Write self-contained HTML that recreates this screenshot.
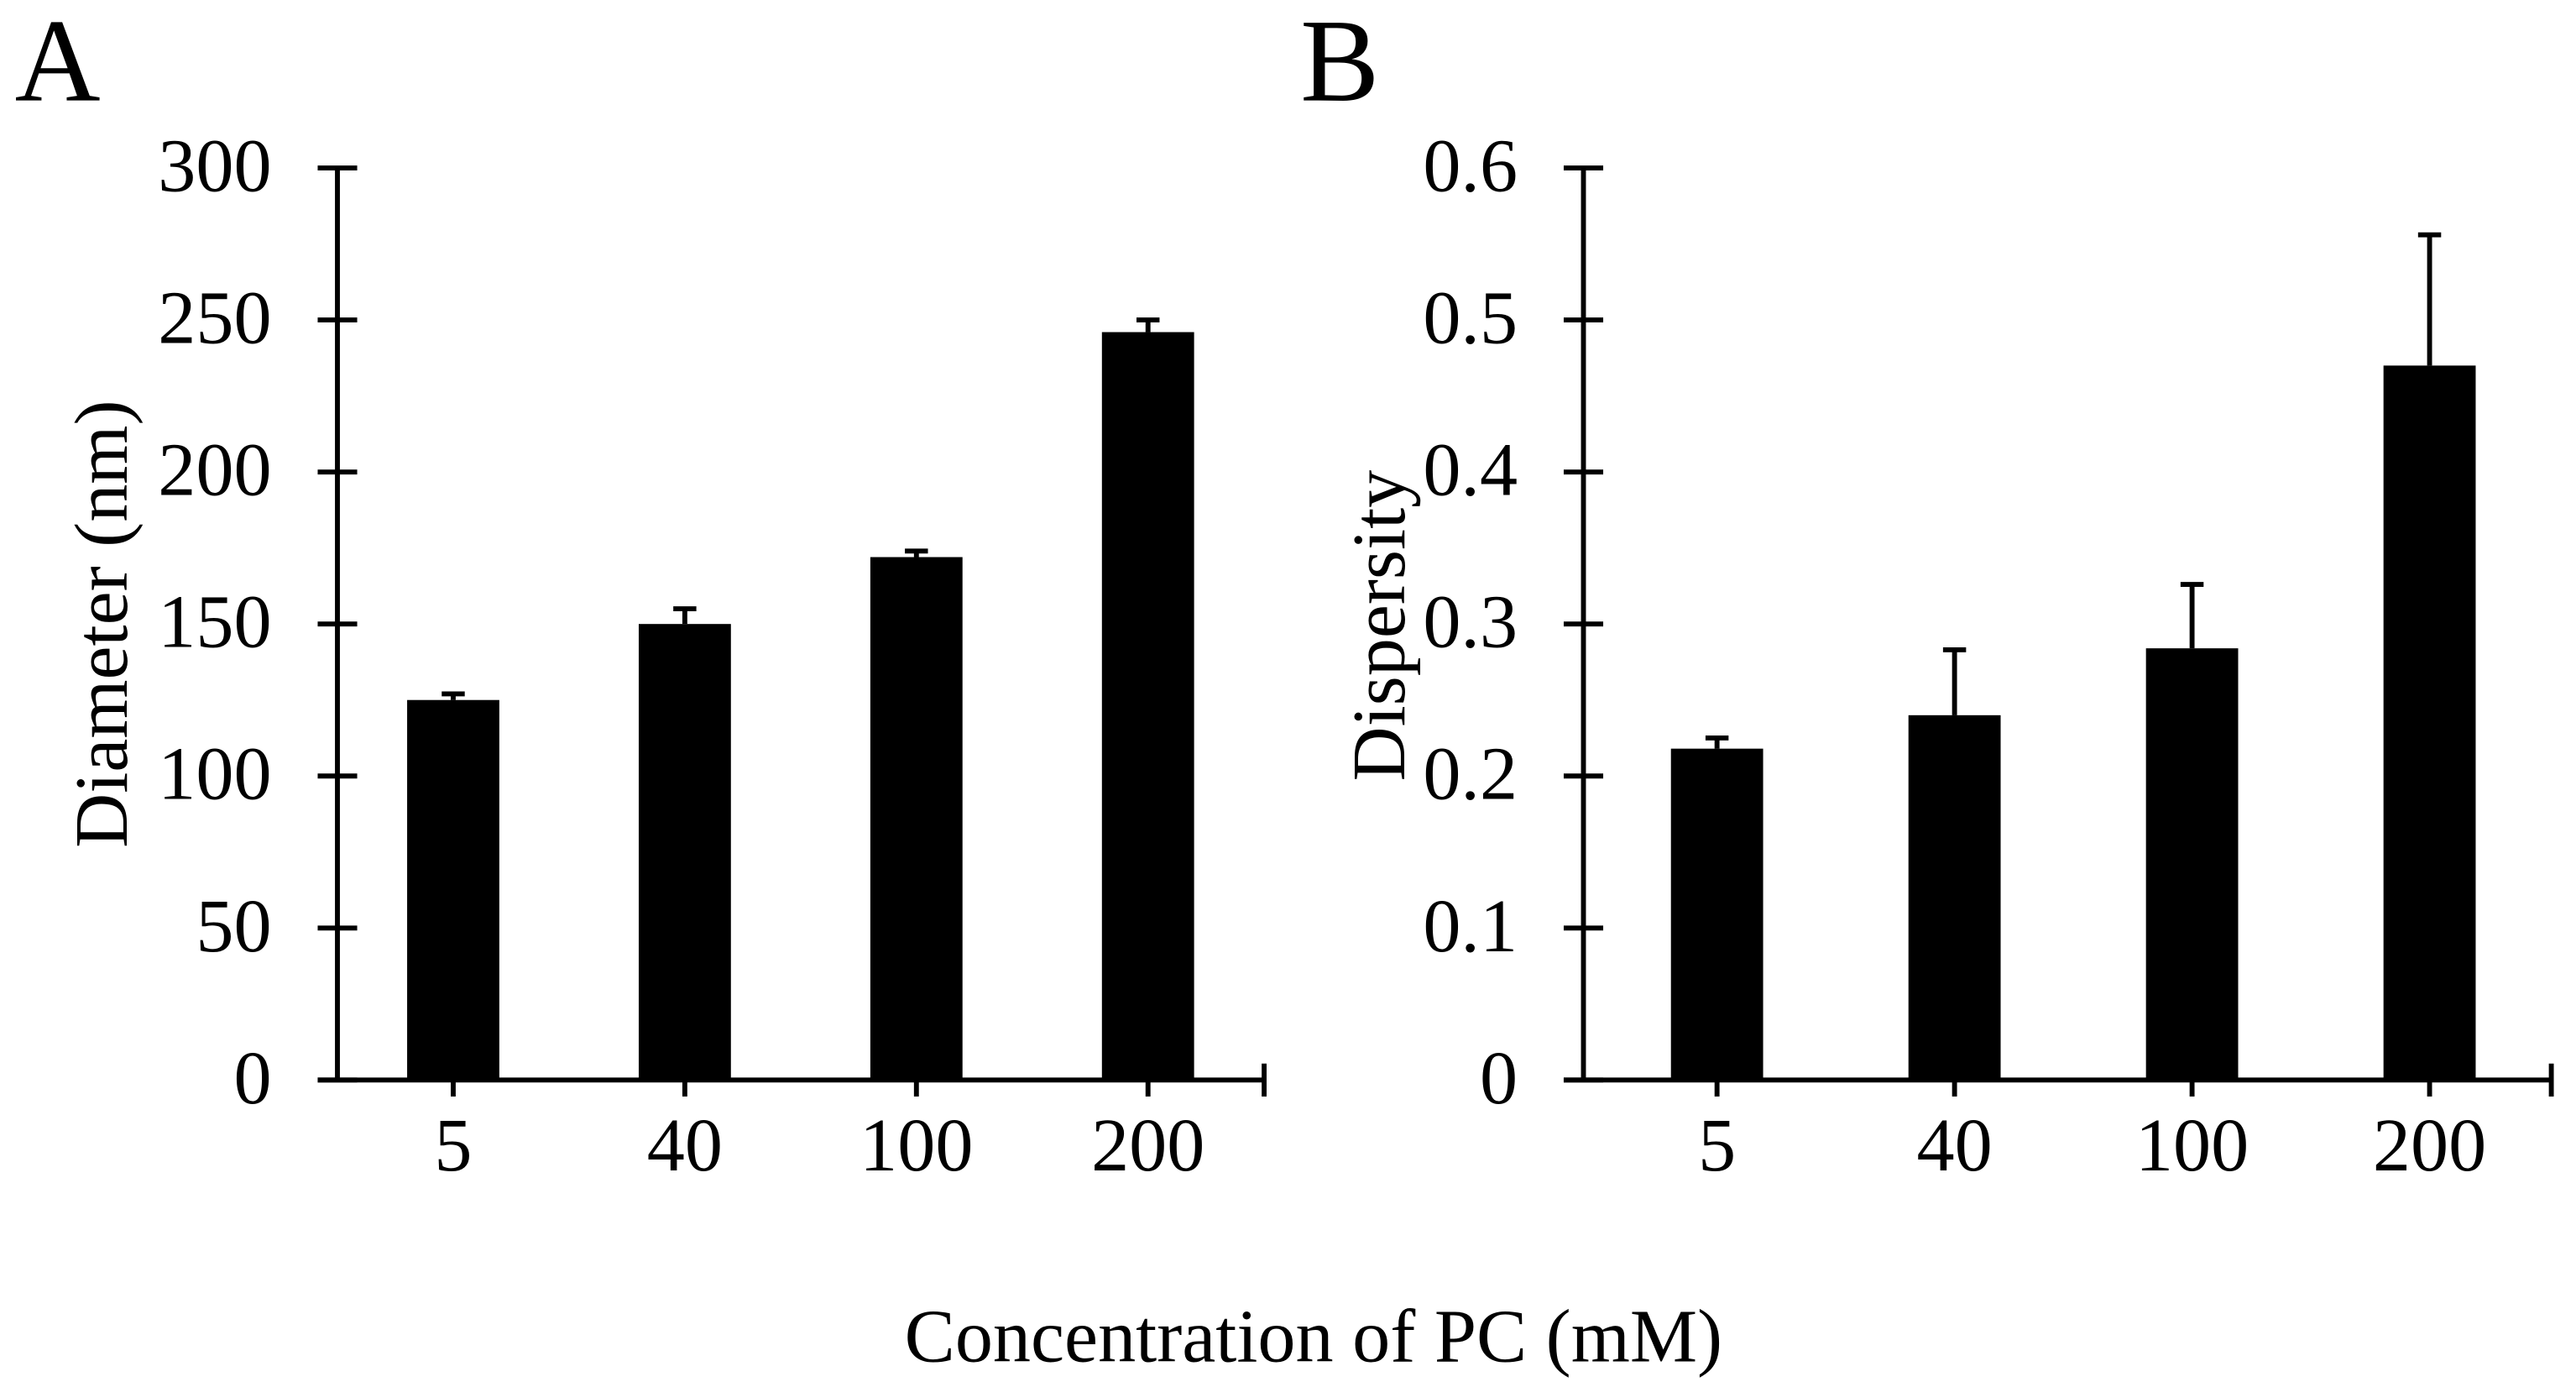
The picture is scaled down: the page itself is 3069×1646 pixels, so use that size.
<!DOCTYPE html>
<html><head><meta charset="utf-8"><style>
html,body{margin:0;padding:0;background:#fff;}
svg{display:block;}
text{font-family:"Liberation Serif",serif;fill:#000;}
</style></head><body>
<svg id="fig" width="3069" height="1646" viewBox="0 0 1565 839.4" preserveAspectRatio="none" xmlns="http://www.w3.org/2000/svg">
<rect width="1565" height="839.4" fill="#fff"/>
<text x="9" y="61" font-size="72">A</text>
<text x="790" y="61" font-size="72">B</text>
<text transform="translate(77,379) rotate(-90)" text-anchor="middle" font-size="46">Diameter (nm)</text>
<text transform="translate(853,380) rotate(-90)" text-anchor="middle" font-size="46">Dispersity</text>
<text x="798" y="827" text-anchor="middle" font-size="46">Concentration of PC (mM)</text>
<g id="pa"></g>
<g id="pb"></g>
</svg>
<script>
const categories = ["5","40","100","200"];
const diameterValues = [125, 150, 172, 246];
const diameterErrors = [2, 5, 2, 4];
const diameterTicks = [0,50,100,150,200,250,300];
const diameterTickLabels = ["0","50","100","150","200","250","300"];
const dispersityValues = [0.218, 0.240, 0.284, 0.470];
const dispersityErrors = [0.007, 0.043, 0.042, 0.086];
const dispersityTicks = [0,0.1,0.2,0.3,0.4,0.5,0.6];
const dispersityTickLabels = ["0","0.1","0.2","0.3","0.4","0.5","0.6"];

const NS = "http://www.w3.org/2000/svg";
function mk(parent, tag, attrs){const e=document.createElementNS(NS,tag);for(const k in attrs)e.setAttribute(k,attrs[k]);parent.appendChild(e);return e;}

function drawPanel(g, cfg){
  const y0=656, y1=102;
  const yScale=v=>y0-(v-cfg.min)/(cfg.max-cfg.min)*(y0-y1);
  const xScale=i=>cfg.x0+cfg.step*(i+0.5);
  const lw=3;
  let ax=mk(g,'line',{x1:cfg.axisX,y1:y1-1,x2:cfg.axisX,y2:y0,stroke:'#000','stroke-width':lw});
  
  
  cfg.ticks.forEach((t,i)=>{
    const y=yScale(t);
    const tk=mk(g,'line',{x1:cfg.axisX-12,y1:y,x2:cfg.axisX+12,y2:y,stroke:'#000','stroke-width':lw});
    
    
    const tl=mk(g,'text',{x:cfg.axisX-40,y:y+14,'text-anchor':'end','font-size':46});
    tl.textContent=cfg.tickLabels[i];
    
    
  });
  const xa=mk(g,'line',{x1:cfg.axisX-12,y1:y0,x2:cfg.xEnd,y2:y0,stroke:'#000','stroke-width':lw});
  
  
  const et=mk(g,'line',{x1:cfg.xEnd,y1:y0-10,x2:cfg.xEnd,y2:y0+10,stroke:'#000','stroke-width':lw});
  
  
  categories.forEach((c,i)=>{
    const cx=xScale(i);
    const v=cfg.values[i], e=cfg.errors[i];
    const top=yScale(v+e);
    const eb=mk(g,'line',{x1:cx,y1:yScale(v),x2:cx,y2:top,stroke:'#000','stroke-width':lw});
    
    
    const cap=mk(g,'line',{x1:cx-7,y1:top,x2:cx+7,y2:top,stroke:'#000','stroke-width':lw});
    
    
    const b=mk(g,'rect',{x:cx-28,y:yScale(v),width:56,height:y0-yScale(v),fill:'#000'});
    
    
    const tk=mk(g,'line',{x1:cx,y1:y0,x2:cx,y2:y0+10,stroke:'#000','stroke-width':lw});
    
    
    const tl=mk(g,'text',{x:cx,y:711,'text-anchor':'middle','font-size':46});
    tl.textContent=c;
    
    
  });
}
drawPanel(document.getElementById('pa'),{axisX:205,x0:205,step:140.7,xEnd:768,min:0,max:300,ticks:diameterTicks,tickLabels:diameterTickLabels,values:diameterValues,errors:diameterErrors});
drawPanel(document.getElementById('pb'),{axisX:962,x0:971,step:144.3,xEnd:1550,min:0,max:0.6,ticks:dispersityTicks,tickLabels:dispersityTickLabels,values:dispersityValues,errors:dispersityErrors});
</script>
</body></html>
